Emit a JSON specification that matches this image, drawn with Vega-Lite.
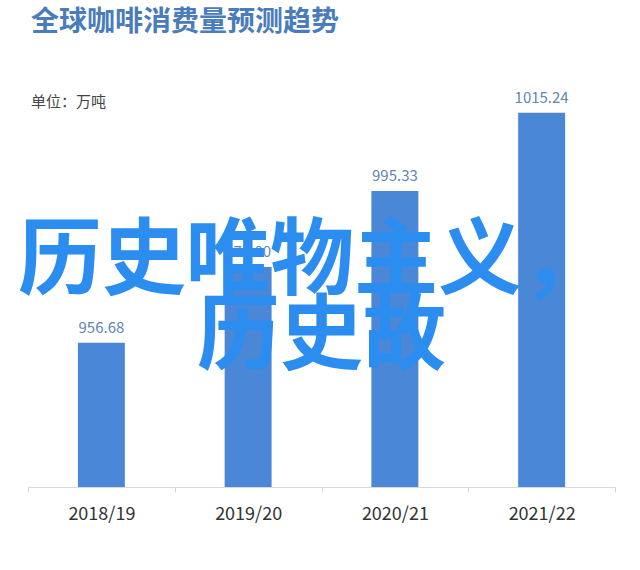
{
  "$schema": "https://vega.github.io/schema/vega-lite/v6.json",
  "autosize": "none",
  "width": 587,
  "height": 393,
  "padding": {"left": 28, "top": 94, "right": 25, "bottom": 83},
  "background": "white",
  "title": {
    "text": "全球咖啡消费量预测趋势",
    "subtitle": "单位：万吨",
    "anchor": "start",
    "orient": "top",
    "offset": -19,
    "fontSize": 28,
    "font": "Noto Sans CJK SC",
    "fontWeight": "bold",
    "color": "#4a7cbc",
    "subtitleFont": "Noto Sans CJK SC",
    "subtitleFontSize": 15,
    "subtitleColor": "#444444",
    "subtitlePadding": 58,
    "dx": 13
  },
  "config": {"view": {"stroke": null}},
  "data": {
    "values": [
      {"year": "2018/19", "value": 956.68},
      {"year": "2019/20", "value": 976.0},
      {"year": "2020/21", "value": 995.33},
      {"year": "2021/22", "value": 1015.24}
    ]
  },
  "layer": [
    {
      "mark": {"type": "bar", "color": "#4a87d6", "width": {"band": 0.32}},
      "encoding": {
        "x": {
          "field": "year",
          "type": "nominal",
          "sort": null,
          "scale": {"paddingInner": 0, "paddingOuter": 0},
          "axis": {
            "title": null,
            "labelAngle": 0,
            "labelFont": "Noto Sans CJK SC",
            "labelFontSize": 18,
            "labelColor": "#333333",
            "labelPadding": 13,
            "domainColor": "#d9d9d9",
            "tickColor": "#d9d9d9",
            "tickSize": 5,
            "tickBand": "extent"
          }
        },
        "y": {
          "field": "value",
          "type": "quantitative",
          "scale": {"domain": [920, 1020], "zero": false, "nice": false},
          "axis": null
        },
        "y2": {"datum": 920}
      }
    },
    {
      "mark": {"type": "text", "baseline": "bottom", "dy": -7, "fontSize": 15, "font": "Noto Sans CJK SC", "color": "#6286b0"},
      "encoding": {
        "x": {"field": "year", "type": "nominal", "sort": null},
        "y": {"field": "value", "type": "quantitative"},
        "text": {"field": "value", "type": "quantitative", "format": ".2f"}
      }
    },
    {
      "data": {"values": [{"t": "历史唯物主义，"}]},
      "mark": {"type": "text", "align": "left", "baseline": "middle", "dx": -10, "fontSize": 84, "font": "Noto Sans CJK SC", "fontWeight": "bold", "color": "#2b8def"},
      "encoding": {
        "x": {"datum": "2018/19", "type": "nominal", "bandPosition": 0},
        "y": {"datum": 977, "type": "quantitative"},
        "text": {"field": "t"}
      }
    },
    {
      "data": {"values": [{"t": "历史故"}]},
      "mark": {"type": "text", "align": "center", "baseline": "middle", "fontSize": 83, "font": "Noto Sans CJK SC", "fontWeight": "bold", "color": "#2b8def"},
      "encoding": {
        "x": {"datum": "2019/20", "type": "nominal", "bandPosition": 1},
        "y": {"datum": 958, "type": "quantitative"},
        "text": {"field": "t"}
      }
    }
  ]
}
